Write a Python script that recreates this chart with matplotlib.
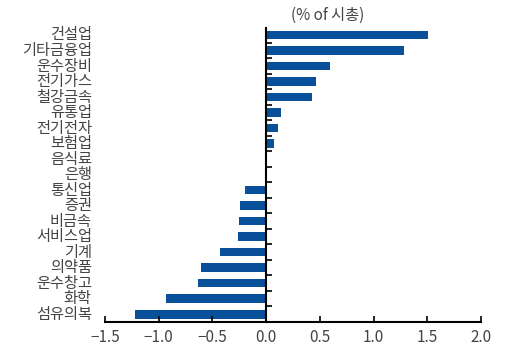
import numpy as np
import matplotlib.pyplot as plt

plt.rcParams['font.family'] = ['Noto Sans CJK KR', 'DejaVu Sans']

sectors = ['건설업', '기타금융업', '운수장비', '전기가스', '철강금속', '유통업', '전기전자',
           '보험업', '음식료', '은행', '통신업', '증권', '비금속', '서비스업', '기계',
           '의약품', '운수창고', '화학', '섬유의복']
values = [1.51, 1.28, 0.59, 0.46, 0.43, 0.14, 0.11, 0.07, 0.0, -0.01, -0.20, -0.24,
          -0.25, -0.26, -0.43, -0.61, -0.63, -0.93, -1.22]
xticks = [-1.5, -1.0, -0.5, 0.0, 0.5, 1.0, 1.5, 2.0]

fig = plt.figure(figsize=(5.06, 3.53), dpi=100)
ax = fig.add_axes([105 / 506, 1 - 322 / 353, 376 / 506, 294 / 353])

pos = np.arange(len(sectors))
ax.barh(pos, values, height=0.55, color='#0a4f9a')

ax.set_xlim(-1.5, 2.0)
ax.set_ylim(len(sectors) - 1 + 0.32, -0.45)

# y spine sits at zero, ticks on category boundaries
ax.spines['left'].set_position(('data', 0))
ax.spines['right'].set_visible(False)
ax.spines['top'].set_visible(False)
ax.spines['left'].set_linewidth(1.5)
ax.spines['bottom'].set_linewidth(1.5)
ax.set_yticks(pos + 0.5)
ax.set_yticklabels([])
ax.tick_params(axis='y', direction='in', length=4, width=1.2)
ax.set_xticks(xticks)
ax.set_xticklabels([f'{t:.1f}'.replace('-', '\u2212') for t in xticks])
ax.tick_params(axis='x', direction='in', length=4, width=1.2, labelsize=11,
               labelcolor='#444444', pad=5)

for p, name in zip(pos, sectors):
    ax.text(-0.035, p, name, transform=ax.get_yaxis_transform(), ha='right',
            va='center', fontsize=11, color='#444444')

fig.text(328 / 506, 1 - 15 / 353, '(% of 시총)', ha='center', va='center',
         fontsize=11, color='#444444')

fig.savefig('out.png', dpi=100)
